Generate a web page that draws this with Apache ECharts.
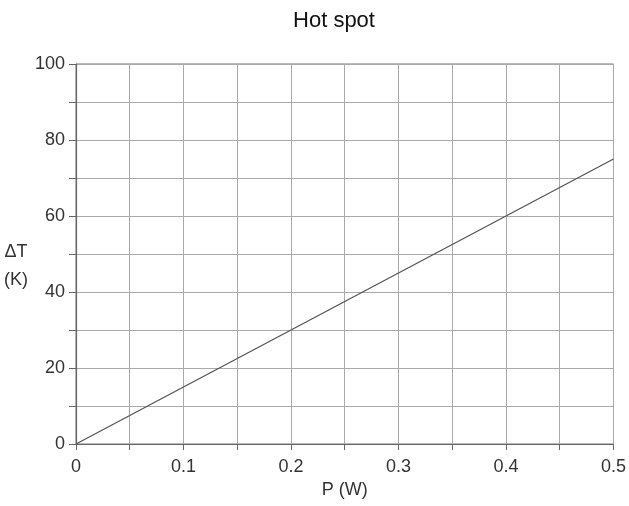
<!DOCTYPE html>
<html>
<head>
<meta charset="utf-8">
<script src="https://cdn.jsdelivr.net/npm/echarts@6/dist/echarts.min.js"></script>
<style>
html,body{margin:0;padding:0;background:#fff;}
#c{width:629px;height:506px;}
</style>
</head>
<body>
<div id="c"></div>
<script>
var titleText = 'Hot spot';
var xName = 'P (W)';
var yNameLines = ['ΔT', '(K)'];
var powerW = [0, 0.1, 0.2, 0.3, 0.4, 0.5];
var deltaTK = [0, 15, 30, 45, 60, 75];

var narrow = '"Liberation Sans Narrow", "Arial Narrow", "Liberation Sans", sans-serif';
var chart = echarts.init(document.getElementById('c'));
var pts = powerW.map(function (p, i) { return [p, deltaTK[i]]; });

chart.setOption({
  animation: false,
  backgroundColor: '#fff',
  title: {
    text: titleText,
    left: 329, top: 5,
    textAlign: 'center',
    textStyle: { fontFamily: '"Liberation Sans", Arial, sans-serif', fontWeight: 'normal', fontSize: 22, color: '#111' }
  },
  grid: { left: 76, right: 14, top: 64, bottom: 62, show: true, borderColor: '#777', borderWidth: 1, containLabel: false },
  xAxis: {
    type: 'value', min: 0, max: 0.5, interval: 0.05,
    name: xName, nameLocation: 'middle', nameGap: 37,
    nameTextStyle: { fontFamily: narrow, fontSize: 18, color: '#333' },
    axisLine: { show: true, lineStyle: { color: '#666', width: 1.2 } },
    axisTick: { show: true, inside: false, length: 6, lineStyle: { color: '#666' } },
    axisLabel: {
      margin: 14, fontFamily: narrow, fontSize: 18, color: '#333',
      formatter: function (v) { var r = Math.round(v * 100); return r % 10 === 0 ? String(r / 100) : ''; }
    },
    splitLine: { show: true, lineStyle: { color: '#aaa', width: 1 } }
  },
  yAxis: {
    type: 'value', min: 0, max: 100, interval: 10,
    axisLine: { show: true, lineStyle: { color: '#666', width: 1.2 } },
    axisTick: { show: true, inside: false, length: 7, lineStyle: { color: '#666' } },
    axisLabel: {
      margin: 11, fontFamily: narrow, fontSize: 18, color: '#333',
      formatter: function (v) { return Math.round(v) % 20 === 0 ? String(Math.round(v)) : ''; }
    },
    splitLine: { show: true, lineStyle: { color: '#aaa', width: 1 } }
  },
  graphic: [
    { type: 'text', x: 16, y: 252, style: { text: yNameLines[0], font: '18px ' + narrow, fill: '#333', textAlign: 'center', textVerticalAlign: 'middle' } },
    { type: 'text', x: 16, y: 280, style: { text: yNameLines[1], font: '18px ' + narrow, fill: '#333', textAlign: 'center', textVerticalAlign: 'middle' } }
  ],
  series: [{
    type: 'line', data: pts, showSymbol: false,
    lineStyle: { color: '#555', width: 1.3 }
  }]
});
</script>
</body>
</html>
